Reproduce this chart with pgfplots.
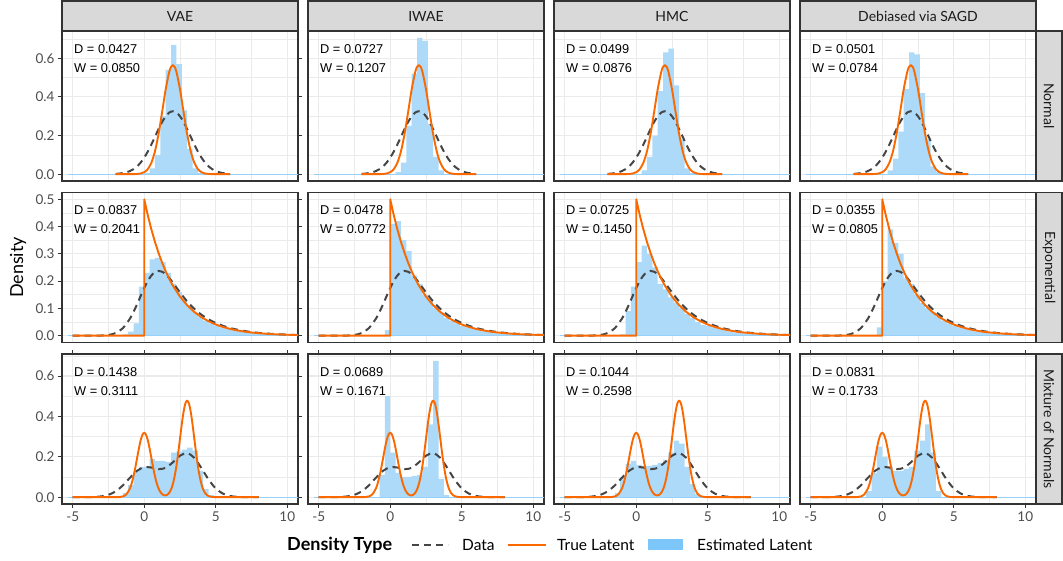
\documentclass[border=0pt]{standalone}
\usepackage{pgfplots}
\pgfplotsset{compat=1.18}
\usepackage{pgfplotstable}
\usepackage{fontspec}
\setmainfont{Lato}
\newfontfamily\annfont{Liberation Sans}

\definecolor{trueor}{RGB}{250,104,0}
\definecolor{datagr}{RGB}{70,70,70}
\definecolor{estbl}{RGB}{124,198,250}
\definecolor{histbl}{RGB}{172,218,248}
\definecolor{gridc}{RGB}{235,235,235}
\definecolor{framec}{RGB}{51,51,51}
\definecolor{stripc}{RGB}{217,217,217}
\definecolor{labc}{RGB}{77,77,77}
\definecolor{striptxt}{RGB}{26,26,26}

% true latent / data densities, per row
\pgfplotstableread{
x y
-2 0
-1.5 0
-1 0.0001
-0.5 0.0011
-0.25 0.0036
0 0.0103
0.25 0.0264
0.5 0.0595
0.75 0.1183
1 0.2076
1.25 0.3215
1.5 0.4394
1.75 0.5300
1.875 0.5555
2 0.5642
2.125 0.5555
2.25 0.5300
2.5 0.4394
2.75 0.3215
3 0.2076
3.25 0.1183
3.5 0.0595
3.75 0.0264
4 0.0103
4.25 0.0036
4.5 0.0011
5 0.0001
5.5 0
6 0
}\normtrue
\pgfplotstableread{
x y
-2 0.0016
-1.75 0.0030
-1.5 0.0055
-1.25 0.0096
-1 0.0162
-0.75 0.0262
-0.5 0.0406
-0.25 0.0603
0 0.0859
0.25 0.1174
0.5 0.1538
0.75 0.1935
1 0.2334
1.25 0.2700
1.5 0.2997
1.75 0.3190
2 0.3257
2.25 0.3190
2.5 0.2997
2.75 0.2700
3 0.2334
3.25 0.1935
3.5 0.1538
3.75 0.1174
4 0.0859
4.25 0.0603
4.5 0.0406
4.75 0.0262
5 0.0162
5.25 0.0096
5.5 0.0055
5.75 0.0030
6 0.0016
}\normdata
\pgfplotstableread{
x y
-5 0
0 0
0 0.5
0.25 0.4412
0.5 0.3894
0.75 0.3437
1 0.3033
1.25 0.2676
1.5 0.2362
1.75 0.2084
2 0.1839
2.5 0.1433
3 0.1116
3.5 0.0869
4 0.0677
4.5 0.0527
5 0.0410
5.5 0.0320
6 0.0249
6.5 0.0194
7 0.0151
7.5 0.0118
8 0.0092
8.5 0.0071
9 0.0056
9.5 0.0043
10 0.0034
10.5 0.0026
11 0.0020
}\exptrue
\pgfplotstableread{
x y
-5 0
-4 0
-3.5 0.0001
-3 0.0006
-2.5 0.0027
-2 0.0096
-1.5 0.0273
-1 0.0624
-0.75 0.0871
-0.5 0.1155
-0.25 0.1455
0 0.1748
0.25 0.2007
0.5 0.2206
0.75 0.2331
1 0.2376
1.25 0.2345
1.5 0.2252
1.75 0.2113
2 0.1945
2.5 0.1587
3 0.1256
3.5 0.0983
4 0.0767
4.5 0.0597
5 0.0465
5.5 0.0362
6 0.0282
6.5 0.0220
7 0.0171
7.5 0.0133
8 0.0104
8.5 0.0081
9 0.0063
9.5 0.0049
10 0.0038
10.5 0.0030
11 0.0023
}\expdata
\pgfplotstableread{
x y
-5 0
-3 0
-2.5 0
-2 0.0001
-1.75 0.0007
-1.5 0.0035
-1.25 0.0140
-1 0.0432
-0.875 0.0690
-0.75 0.1036
-0.625 0.1461
-0.5 0.1935
-0.375 0.2409
-0.25 0.2816
-0.125 0.3093
0 0.3191
0.125 0.3093
0.25 0.2816
0.375 0.2409
0.5 0.1935
0.625 0.1461
0.75 0.1036
0.875 0.0690
1 0.0434
1.125 0.0258
1.25 0.0151
1.375 0.0097
1.5 0.0088
1.625 0.0125
1.75 0.0217
1.875 0.0384
2 0.0649
2.125 0.1035
2.25 0.1554
2.375 0.2192
2.5 0.2903
2.625 0.3613
2.75 0.4225
2.875 0.4640
3 0.4787
3.125 0.4640
3.25 0.4225
3.375 0.3613
3.5 0.2903
3.625 0.2192
3.75 0.1554
3.875 0.1035
4 0.0648
4.125 0.0381
4.25 0.0210
4.375 0.0109
4.5 0.0053
4.75 0.0011
5 0.0002
5.5 0
6 0
8 0
}\mixtrue
\pgfplotstableread{
x y
-5 0
-4.5 0
-4 0.0002
-3.5 0.0011
-3 0.0039
-2.5 0.0117
-2 0.0288
-1.5 0.0581
-1 0.0961
-0.5 0.1307
0 0.1485
0.5 0.1467
1 0.1389
1.5 0.1451
2 0.1723
2.5 0.2054
3 0.2180
3.5 0.1948
4 0.1437
4.5 0.0871
5 0.0432
5.5 0.0176
6 0.0058
6.5 0.0016
7 0.0004
7.5 0.0001
8 0
}\mixdata

\pgfplotsset{
  panel/.style={
    scale only axis, width=236pt, height=150pt, anchor=north west,
    xmin=-5.75, xmax=10.75,
    xtick={-5,0,5,10}, minor xtick={-2.5,2.5,7.5},
    grid=both,
    major grid style={draw=gridc, line width=1.1pt},
    minor grid style={draw=gridc, line width=0.55pt},
    axis line style={draw=framec, line width=1.1pt},
    tick align=outside, major tick length=4pt, minor tick length=0pt,
    tick style={draw=framec, line width=0.9pt},
    tick label style={font=\fontsize{13.5}{15}\selectfont, text=labc},
    xticklabels={}, yticklabels={},
    xtick style={draw=none}, ytick style={draw=none},
  },
  row1/.style={ymin=-0.0353, ymax=0.7412, ytick={0,0.2,0.4,0.6}, minor ytick={0.1,0.3,0.5,0.7}},
  row2/.style={ymin=-0.025, ymax=0.525, ytick={0,0.1,0.2,0.3,0.4,0.5}, minor ytick={0.05,0.15,0.25,0.35,0.45}},
  row3/.style={ymin=-0.0338, ymax=0.709, ytick={0,0.2,0.4,0.6}, minor ytick={0.1,0.3,0.5,0.7}},
  lefta/.style={yticklabels={0.0,0.2,0.4,0.6}, ytick style={draw=framec, line width=0.9pt}},
  leftb/.style={yticklabels={0.0,0.1,0.2,0.3,0.4,0.5}, ytick style={draw=framec, line width=0.9pt}},
  bottom/.style={xticklabels={-5,0,5,10}, xtick style={draw=framec, line width=0.9pt}},
  histst/.style={const plot, fill=histbl, draw=none},
  zerost/.style={draw=estbl!80, line width=0.5pt},
  datast/.style={draw=datagr, line width=2pt, dash pattern=on 7pt off 5pt, smooth},
  truest/.style={draw=trueor, line width=1.9pt, smooth, line join=round},
}
\tikzset{
  annot/.style={anchor=base west, inner sep=0pt, font=\annfont\fontsize{12.8}{15}\selectfont, text=black},
}

\begin{document}
\begin{tikzpicture}[x=1pt,y=1pt]
\useasboundingbox (0,0) rectangle (1063,-561);

% ---------- row 1: Normal ----------
\begin{axis}[panel, row1, lefta, at={(62pt,-31pt)}]
\addplot[histst] coordinates {(0,0.005)(0.375,0.03)(0.75,0.10)(1.125,0.30)(1.5,0.54)(1.875,0.67)(2.25,0.57)(2.625,0.33)(3,0.13)(3.375,0.03)(3.75,0.005)(4.125,0)} \closedcycle;
\addplot[zerost] coordinates {(-5.3,0)(10.8,0)};
\addplot[datast] table {\normdata};
\addplot[truest] table {\normtrue};
\node[annot, xshift=12pt, yshift=-22.5pt] at (rel axis cs:0,1) {D = 0.0427};
\node[annot, xshift=12pt, yshift=-41.5pt] at (rel axis cs:0,1) {W = 0.0850};
\end{axis}
\begin{axis}[panel, row1, at={(308pt,-31pt)}]
\addplot[histst] coordinates {(0.375,0.01)(0.75,0.06)(1.125,0.25)(1.5,0.52)(1.875,0.705)(2.25,0.69)(2.625,0.26)(3,0.09)(3.375,0.02)(3.75,0)} \closedcycle;
\addplot[zerost] coordinates {(-5.3,0)(10.8,0)};
\addplot[datast] table {\normdata};
\addplot[truest] table {\normtrue};
\node[annot, xshift=12pt, yshift=-22.5pt] at (rel axis cs:0,1) {D = 0.0727};
\node[annot, xshift=12pt, yshift=-41.5pt] at (rel axis cs:0,1) {W = 0.1207};
\end{axis}
\begin{axis}[panel, row1, at={(554pt,-31pt)}]
\addplot[histst] coordinates {(0.375,0.02)(0.75,0.09)(1.125,0.20)(1.5,0.43)(1.875,0.63)(2.25,0.65)(2.625,0.46)(3,0.18)(3.375,0.03)(3.75,0.005)(4.125,0)} \closedcycle;
\addplot[zerost] coordinates {(-5.3,0)(10.8,0)};
\addplot[datast] table {\normdata};
\addplot[truest] table {\normtrue};
\node[annot, xshift=12pt, yshift=-22.5pt] at (rel axis cs:0,1) {D = 0.0499};
\node[annot, xshift=12pt, yshift=-41.5pt] at (rel axis cs:0,1) {W = 0.0876};
\end{axis}
\begin{axis}[panel, row1, at={(800pt,-31pt)}]
\addplot[histst] coordinates {(0.375,0.02)(0.75,0.08)(1.125,0.22)(1.5,0.44)(1.875,0.63)(2.25,0.62)(2.625,0.42)(3,0.18)(3.375,0.04)(3.75,0.01)(4.125,0)} \closedcycle;
\addplot[zerost] coordinates {(-5.3,0)(10.8,0)};
\addplot[datast] table {\normdata};
\addplot[truest] table {\normtrue};
\node[annot, xshift=12pt, yshift=-22.5pt] at (rel axis cs:0,1) {D = 0.0501};
\node[annot, xshift=12pt, yshift=-41.5pt] at (rel axis cs:0,1) {W = 0.0784};
\end{axis}

% ---------- row 2: Exponential ----------
\begin{axis}[panel, row2, leftb, at={(62pt,-192.5pt)}]
\addplot[histst] coordinates {(-1.5,0.005)(-1.125,0.015)(-0.75,0.045)(-0.375,0.18)(0,0.23)(0.375,0.28)(0.75,0.285)(1.125,0.27)(1.5,0.23)(1.875,0.19)(2.25,0.16)(2.625,0.13)(3,0.105)(3.375,0.085)(3.75,0.07)(4.125,0.055)(4.5,0.045)(4.875,0.037)(5.25,0.03)(5.625,0.025)(6,0.02)(6.375,0.017)(6.75,0.014)(7.125,0.011)(7.5,0.009)(7.875,0.007)(8.25,0.006)(8.625,0.005)(9,0.004)(9.375,0.003)(9.75,0.003)(10.125,0.002)(10.5,0.002)(10.875,0)} \closedcycle;
\addplot[zerost] coordinates {(-5.3,0)(10.8,0)};
\addplot[datast] table {\expdata};
\addplot[truest, sharp plot] table {\exptrue};
\node[annot, xshift=12pt, yshift=-22.5pt] at (rel axis cs:0,1) {D = 0.0837};
\node[annot, xshift=12pt, yshift=-41.5pt] at (rel axis cs:0,1) {W = 0.2041};
\end{axis}
\begin{axis}[panel, row2, at={(308pt,-192.5pt)}]
\addplot[histst] coordinates {(-0.375,0.02)(0,0.41)(0.375,0.42)(0.75,0.35)(1.125,0.31)(1.5,0.22)(1.875,0.19)(2.25,0.15)(2.625,0.13)(3,0.10)(3.375,0.085)(3.75,0.065)(4.125,0.055)(4.5,0.045)(4.875,0.035)(5.25,0.03)(5.625,0.025)(6,0.02)(6.375,0.016)(6.75,0.013)(7.125,0.01)(7.5,0.008)(7.875,0.006)(8.25,0.005)(8.625,0.004)(9,0.003)(9.375,0.003)(9.75,0.002)(10.125,0.002)(10.5,0)} \closedcycle;
\addplot[zerost] coordinates {(-5.3,0)(10.8,0)};
\addplot[datast] table {\expdata};
\addplot[truest, sharp plot] table {\exptrue};
\node[annot, xshift=12pt, yshift=-22.5pt] at (rel axis cs:0,1) {D = 0.0478};
\node[annot, xshift=12pt, yshift=-41.5pt] at (rel axis cs:0,1) {W = 0.0772};
\end{axis}
\begin{axis}[panel, row2, at={(554pt,-192.5pt)}]
\addplot[histst] coordinates {(-1.125,0.005)(-0.75,0.09)(-0.375,0.18)(0,0.27)(0.375,0.33)(0.75,0.30)(1.125,0.25)(1.5,0.19)(1.875,0.17)(2.25,0.14)(2.625,0.12)(3,0.10)(3.375,0.08)(3.75,0.065)(4.125,0.05)(4.5,0.04)(4.875,0.035)(5.25,0.03)(5.625,0.025)(6,0.02)(6.375,0.016)(6.75,0.012)(7.125,0.01)(7.5,0.008)(7.875,0.006)(8.25,0.005)(8.625,0.004)(9,0.003)(9.375,0.003)(9.75,0.002)(10.125,0)} \closedcycle;
\addplot[zerost] coordinates {(-5.3,0)(10.8,0)};
\addplot[datast] table {\expdata};
\addplot[truest, sharp plot] table {\exptrue};
\node[annot, xshift=12pt, yshift=-22.5pt] at (rel axis cs:0,1) {D = 0.0725};
\node[annot, xshift=12pt, yshift=-41.5pt] at (rel axis cs:0,1) {W = 0.1450};
\end{axis}
\begin{axis}[panel, row2, at={(800pt,-192.5pt)}]
\addplot[histst] coordinates {(-0.375,0.03)(0,0.20)(0.375,0.39)(0.75,0.34)(1.125,0.30)(1.5,0.21)(1.875,0.19)(2.25,0.15)(2.625,0.12)(3,0.10)(3.375,0.085)(3.75,0.07)(4.125,0.055)(4.5,0.045)(4.875,0.037)(5.25,0.03)(5.625,0.025)(6,0.02)(6.375,0.016)(6.75,0.013)(7.125,0.01)(7.5,0.008)(7.875,0.006)(8.25,0.005)(8.625,0.004)(9,0.003)(9.375,0.003)(9.75,0.002)(10.125,0)} \closedcycle;
\addplot[zerost] coordinates {(-5.3,0)(10.8,0)};
\addplot[datast] table {\expdata};
\addplot[truest, sharp plot] table {\exptrue};
\node[annot, xshift=12pt, yshift=-22.5pt] at (rel axis cs:0,1) {D = 0.0355};
\node[annot, xshift=12pt, yshift=-41.5pt] at (rel axis cs:0,1) {W = 0.0805};
\end{axis}

% ---------- row 3: Mixture of Normals ----------
\begin{axis}[panel, row3, lefta, bottom, at={(62pt,-354pt)}]
\addplot[histst] coordinates {(-1.875,0.005)(-1.5,0.02)(-1.125,0.06)(-0.75,0.13)(-0.375,0.15)(0,0.15)(0.375,0.19)(0.75,0.18)(1.125,0.18)(1.5,0.175)(1.875,0.22)(2.25,0.225)(2.625,0.235)(3,0.245)(3.375,0.23)(3.75,0.13)(4.125,0.04)(4.5,0.01)(4.875,0)} \closedcycle;
\addplot[zerost] coordinates {(-5.3,0)(10.8,0)};
\addplot[datast] table {\mixdata};
\addplot[truest] table {\mixtrue};
\node[annot, xshift=12pt, yshift=-22.5pt] at (rel axis cs:0,1) {D = 0.1438};
\node[annot, xshift=12pt, yshift=-41.5pt] at (rel axis cs:0,1) {W = 0.3111};
\end{axis}
\begin{axis}[panel, row3, bottom, at={(308pt,-354pt)}]
\addplot[histst] coordinates {(-0.75,0.11)(-0.375,0.50)(0,0.22)(0.375,0.12)(0.75,0.10)(1.125,0.10)(1.5,0.105)(1.875,0.11)(2.25,0.15)(2.625,0.36)(3,0.675)(3.375,0.09)(3.75,0.01)(4.125,0)} \closedcycle;
\addplot[zerost] coordinates {(-5.3,0)(10.8,0)};
\addplot[datast] table {\mixdata};
\addplot[truest] table {\mixtrue};
\node[annot, xshift=12pt, yshift=-22.5pt] at (rel axis cs:0,1) {D = 0.0689};
\node[annot, xshift=12pt, yshift=-41.5pt] at (rel axis cs:0,1) {W = 0.1671};
\end{axis}
\begin{axis}[panel, row3, bottom, at={(554pt,-354pt)}]
\addplot[histst] coordinates {(-1.5,0.02)(-1.125,0.10)(-0.75,0.165)(-0.375,0.18)(0,0.16)(0.375,0.155)(0.75,0.155)(1.125,0.16)(1.5,0.17)(1.875,0.185)(2.25,0.22)(2.625,0.28)(3,0.265)(3.375,0.15)(3.75,0.065)(4.125,0.015)(4.5,0)} \closedcycle;
\addplot[zerost] coordinates {(-5.3,0)(10.8,0)};
\addplot[datast] table {\mixdata};
\addplot[truest] table {\mixtrue};
\node[annot, xshift=12pt, yshift=-22.5pt] at (rel axis cs:0,1) {D = 0.1044};
\node[annot, xshift=12pt, yshift=-41.5pt] at (rel axis cs:0,1) {W = 0.2598};
\end{axis}
\begin{axis}[panel, row3, bottom, at={(800pt,-354pt)}]
\addplot[histst] coordinates {(-1.125,0.03)(-0.75,0.12)(-0.375,0.25)(0,0.20)(0.375,0.15)(0.75,0.13)(1.125,0.13)(1.5,0.14)(1.875,0.15)(2.25,0.23)(2.625,0.28)(3,0.36)(3.375,0.22)(3.75,0.03)(4.125,0)} \closedcycle;
\addplot[zerost] coordinates {(-5.3,0)(10.8,0)};
\addplot[datast] table {\mixdata};
\addplot[truest] table {\mixtrue};
\node[annot, xshift=12pt, yshift=-22.5pt] at (rel axis cs:0,1) {D = 0.0831};
\node[annot, xshift=12pt, yshift=-41.5pt] at (rel axis cs:0,1) {W = 0.1733};
\end{axis}

% ---------- strips ----------
\foreach \L/\t in {62/VAE, 308/IWAE, 554/HMC, 800/Debiased via SAGD} {
  \draw[fill=stripc, draw=framec, line width=1.1pt] (\L,-1) rectangle (\L+236,-31);
  \node[text=striptxt, font=\fontsize{14}{16}\selectfont] at (\L+118,-16) {\t};
}
\foreach \T/\t in {31/Normal, 192.5/Exponential, 354/Mixture of Normals} {
  \draw[fill=stripc, draw=framec, line width=1.1pt] (1036,-\T) rectangle (1062,-\T-150);
  \node[text=striptxt, font=\fontsize{14}{16}\selectfont, rotate=-90] at (1049,-\T-75) {\t};
}

% ---------- y label ----------
\node[rotate=90, font=\fontsize{18}{20}\selectfont] at (18,-267.5) {Density};

% ---------- legend ----------
\node[anchor=base west, inner sep=0pt, font=\bfseries\fontsize{18}{20}\selectfont] at (287,-550) {Density Type};
\draw[datagr, line width=2pt, dash pattern=on 7pt off 5pt] (412,-545) -- (448,-545);
\node[anchor=base west, inner sep=0pt, font=\fontsize{15.5}{18}\selectfont] at (462,-550) {Data};
\draw[trueor, line width=1.9pt] (508,-545) -- (546,-545);
\node[anchor=base west, inner sep=0pt, font=\fontsize{15.5}{18}\selectfont] at (557,-550) {True Latent};
\fill[estbl] (648,-539) rectangle (683,-550);
\node[anchor=base west, inner sep=0pt, font=\fontsize{15.5}{18}\selectfont] at (697,-550) {Estimated Latent};
\end{tikzpicture}
\end{document}
